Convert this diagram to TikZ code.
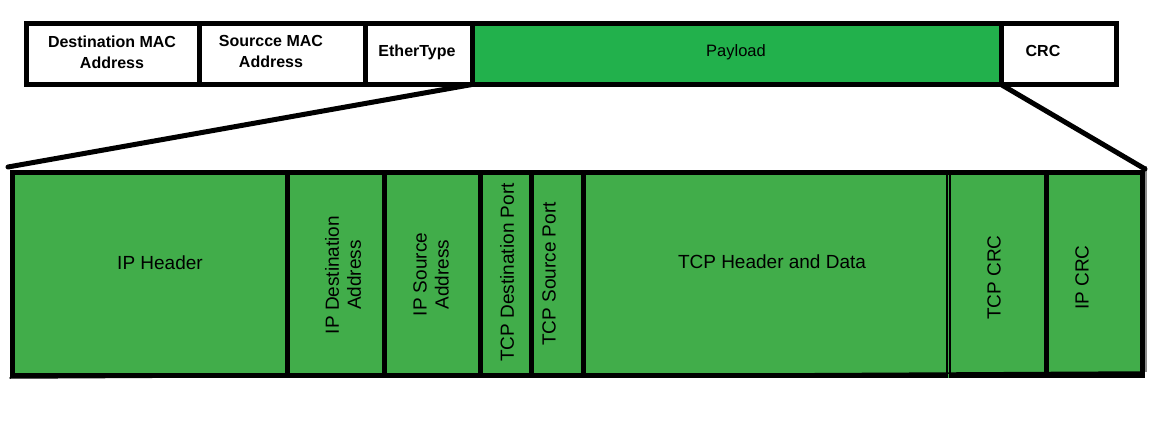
\documentclass[tikz,border=0pt]{standalone}
\usepackage{fontspec}
\setmainfont{Liberation Sans}
\definecolor{topgreen}{HTML}{22B14C}
\definecolor{lowgreen}{HTML}{41AD4A}
\begin{document}
\begin{tikzpicture}[x=1pt,y=-1pt,
  cellbase/.style={draw=black, line width=5pt, inner sep=0pt, outer sep=0pt},
  topcell/.style={cellbase, fill=white, minimum height=61pt},
  lowcell/.style={cellbase, fill=lowgreen, minimum height=203pt},
  toplbl/.style={font=\fontsize{16}{21}\selectfont\bfseries, align=center, inner sep=0pt},
  lowlbl/.style={font=\fontsize{19}{22}\selectfont, align=center, inner sep=0pt},
  vlbl/.style={lowlbl, rotate=90},
  link/.style={line width=5pt, line cap=round}]
\useasboundingbox (0,0) rectangle (1161,439);
% top frame
\node[topcell, minimum width=173pt] (dst) at (113,54) {};
\node[topcell, minimum width=166pt] (src) at (282.5,54) {};
\node[topcell, minimum width=106.5pt] (eth) at (418.75,54) {};
\node[topcell, minimum width=529pt, fill=topgreen] (pay) at (736.5,54) {};
\node[topcell, minimum width=115.5pt] (crc) at (1058.75,54) {};
\node[toplbl] (dstT) at (112,52) {Destination MAC\\Address};
\node[toplbl] (srcT) at (271,51.5) {Sourcce MAC\\Address};
\node[toplbl] (ethT) at (417,52) {EtherType};
\node[toplbl, font=\fontsize{16.5}{20}\selectfont] (payT) at (736,52) {Payload};
\node[toplbl] (crcT) at (1043,51) {CRC};
% lower frame
\node[lowcell, minimum width=275.5pt] (iph) at (149.75,273.5) {};
\node[lowcell, minimum width=97pt] (ipd) at (336,273.5) {};
\node[lowcell, minimum width=96pt] (ips) at (432.5,273.5) {};
\node[lowcell, minimum width=50.5pt] (tdp) at (505.75,273.5) {};
\node[lowcell, minimum width=52.5pt] (tsp) at (557.25,273.5) {};
\node[lowcell, minimum width=365pt] (thd) at (766,273.5) {};
\node[lowcell, minimum width=98pt] (tcrc) at (997.5,273.5) {};
\node[lowcell, minimum width=95.5pt] (icrc) at (1094.25,273.5) {};
\draw[lowgreen, line width=1.2pt] (thd.north east) ++(0,3) -- ([yshift=-3pt]thd.south east);
\draw[black, line width=1.5pt] (iph.south west) ++(-2.5,3) -- ([xshift=2.5pt,yshift=3pt]icrc.south east);
\draw[black!45, line width=2.5pt] ([xshift=4pt,yshift=6pt]icrc.north east) -- ([xshift=4pt,yshift=3pt]icrc.south east);
\node[lowlbl] (iphT) at (160,263) {IP Header};
\node[vlbl] (ipdT) at (343,275) {IP Destination\\Address};
\node[vlbl] (ipsT) at (431,274.5) {IP Source\\Address};
\node[vlbl] (tdpT) at (507,272.5) {TCP Destination Port};
\node[vlbl] (tspT) at (549,274) {TCP Source Port};
\node[lowlbl] (thdT) at (772,262) {TCP Header and Data};
\node[vlbl] (tcrcT) at (994,277.5) {TCP CRC};
\node[vlbl] (icrcT) at (1082,277.5) {IP CRC};
% connectors
\coordinate (L) at (8,167);
\coordinate (R) at (1145,169);
\draw[link] (pay.south west) -- (L);
\draw[link] (pay.south east) -- (R);
\end{tikzpicture}
\end{document}
